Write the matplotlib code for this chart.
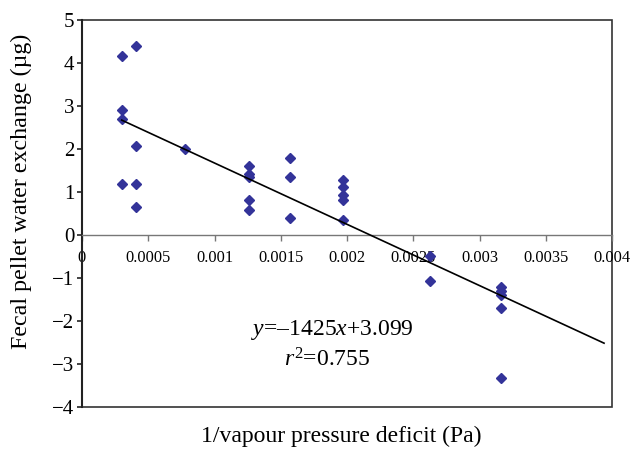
import matplotlib
matplotlib.use("Agg")
import matplotlib.pyplot as plt
from matplotlib.patches import Rectangle

# data
inv_vpd = [0.0003, 0.0003, 0.0003, 0.0003,
           0.00041, 0.00041, 0.00041, 0.00041,
           0.00078,
           0.00126, 0.00126, 0.00126, 0.00126, 0.00126,
           0.00157, 0.00157, 0.00157,
           0.00197, 0.00197, 0.00197, 0.00197, 0.00197,
           0.00263, 0.00263,
           0.00316, 0.00316, 0.00316, 0.00316, 0.00316]
water_exchange = [4.16, 2.91, 2.69, 1.19,
                  4.40, 2.07, 1.19, 0.64,
                  2.01,
                  1.61, 1.42, 1.36, 0.81, 0.58,
                  1.78, 1.34, 0.40,
                  1.29, 1.11, 0.92, 0.81, 0.35,
                  -0.49, -1.06,
                  -1.20, -1.30, -1.40, -1.70, -3.32]

# regression line as given on the chart
slope = -1425
intercept = 3.099
trend_x = [0.0003, 0.00394]

x_ticks = [0, 0.0005, 0.001, 0.0015, 0.002, 0.0025, 0.003, 0.0035, 0.004]
x_tick_labels = ["0", "0.0005", "0.001", "0.0015", "0.002", "0.0025", "0.003", "0.0035", "0.004"]
y_ticks = [-4, -3, -2, -1, 0, 1, 2, 3, 4, 5]

plt.rcParams["font.family"] = ["Liberation Serif", "DejaVu Serif"]
plt.rcParams["mathtext.fontset"] = "custom"
plt.rcParams["mathtext.rm"] = "Liberation Serif"
plt.rcParams["mathtext.it"] = "Liberation Serif:italic"

fig = plt.figure(figsize=(6.31, 4.51), dpi=100)
ax = fig.add_axes([82 / 631, 44 / 451, 530 / 631, 387 / 451])

ax.plot(inv_vpd, water_exchange, linestyle="none", marker="D",
        markersize=5.2, color="#333399", zorder=3)
trend_y = [slope * x + intercept for x in trend_x]
ax.plot(trend_x, trend_y, color="black", linewidth=1.2, zorder=4)

ax.set_xlim(0, 0.004)
ax.set_ylim(-4, 5)

# x axis crosses at y = 0
ax.spines["bottom"].set_position(("data", 0))
ax.spines["bottom"].set_color("#777777")
ax.spines["bottom"].set_linewidth(1.0)
ax.spines["left"].set_linewidth(1.5)
ax.spines["left"].set_color("#222222")
ax.spines["top"].set_visible(False)
ax.spines["right"].set_visible(False)
ax.add_patch(Rectangle((0, 0), 1, 1, transform=ax.transAxes, fill=False,
                       edgecolor="#333333", linewidth=1.2, clip_on=False, zorder=1))

ax.set_xticks(x_ticks)
ax.set_xticklabels(x_tick_labels)
ax.set_yticks(y_ticks)
ax.set_yticklabels([str(v).replace("-", "\u2212") for v in y_ticks])
ax.tick_params(axis="x", direction="out", length=4, width=1, color="#777777",
               labelsize=11.8, pad=7)
ax.tick_params(axis="y", direction="out", length=3.5, width=1.2, color="#222222",
               labelsize=15, pad=2)

ax.text(0.00189, -2.21, "$y$=\u20131425$x$+3.099", fontsize=17,
        ha="center", va="center")
ax.text(0.00185, -2.91, "$r^2$=0.755", fontsize=17, ha="center", va="center")

fig.text(341 / 631, 1 - 436 / 451, "1/vapour pressure deficit (Pa)",
         fontsize=17, ha="center", va="center")
fig.text(21 / 631, 1 - 191 / 451, "Fecal pellet water exchange (\u00b5g)",
         fontsize=17.3, ha="center", va="center", rotation=90)

fig.savefig("out.png", dpi=100)
